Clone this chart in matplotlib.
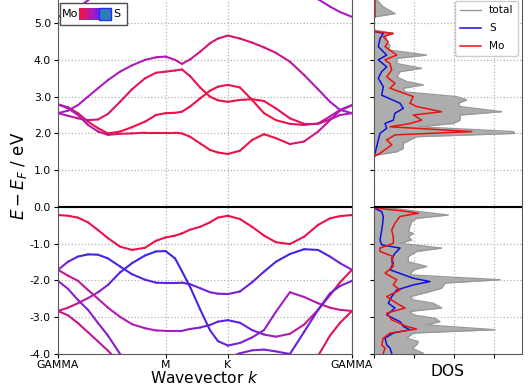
import numpy as np
import matplotlib
matplotlib.use("Agg")
import matplotlib.pyplot as plt
from matplotlib.collections import LineCollection
from matplotlib.colors import LinearSegmentedColormap
from matplotlib.patches import Rectangle

plt.rcParams['axes.unicode_minus'] = False
plt.rcParams['axes.edgecolor'] = '0.35'

# k-path (Gamma - M - K - Gamma), path length units
kpts = [0.0, 0.054, 0.107, 0.161, 0.215, 0.268, 0.333, 0.397, 0.467, 0.526, 0.577,
        0.628, 0.665, 0.708, 0.762, 0.815, 0.858, 0.911,
        0.976, 1.041, 1.105, 1.169, 1.244, 1.320, 1.395, 1.459, 1.513, 1.577]
tick_pos = [0.0, 0.577, 0.911, 1.577]
tick_labels = ['GAMMA', 'M', 'K', 'GAMMA']

# band energies (eV, relative to E_F) and S character (0 = Mo, 1 = S)
nan = np.nan
c_top = [5.17, 5.28, 5.42, 5.62, 5.85, nan, nan, nan, nan, nan, nan,
         nan, nan, nan, nan, nan, nan, nan,
         nan, nan, nan, nan, nan, 5.85, 5.65, 5.45, 5.30, 5.17]
c_top_s = [0.5] * 28
c1 = [2.55, 2.62, 2.77, 3.00, 3.23, 3.45, 3.68, 3.85, 4.00, 4.07, 4.09,
      4.00, 3.89, 4.01, 4.22, 4.45, 4.58, 4.66,
      4.58, 4.47, 4.34, 4.19, 3.95, 3.59, 3.20, 2.86, 2.64, 2.55]
c1_s = [0.5, 0.5, 0.5, 0.5, 0.5, 0.48, 0.46, 0.45, 0.45, 0.45, 0.45,
        0.4, 0.35, 0.3, 0.25, 0.2, 0.18, 0.18,
        0.18, 0.2, 0.22, 0.25, 0.3, 0.38, 0.45, 0.5, 0.55, 0.55]
c2 = [2.55, 2.48, 2.41, 2.36, 2.38, 2.53, 2.86, 3.20, 3.50, 3.65, 3.68,
      3.71, 3.74, 3.56, 3.25, 3.00, 2.90, 2.86,
      2.91, 2.93, 2.88, 2.68, 2.41, 2.26, 2.26, 2.38, 2.50, 2.55]
c2_s = [0.45, 0.4, 0.32, 0.25, 0.2, 0.18, 0.15, 0.12, 0.12, 0.12, 0.12,
        0.12, 0.12, 0.1, 0.08, 0.06, 0.06, 0.06,
        0.06, 0.06, 0.06, 0.08, 0.12, 0.2, 0.3, 0.4, 0.45, 0.5]
c3 = [2.79, 2.71, 2.55, 2.32, 2.14, 2.00, 2.05, 2.17, 2.32, 2.50, 2.55,
      2.56, 2.59, 2.73, 2.95, 3.16, 3.27, 3.32,
      3.25, 2.91, 2.55, 2.36, 2.26, 2.23, 2.27, 2.46, 2.64, 2.77]
c3_s = [0.3, 0.25, 0.18, 0.12, 0.08, 0.05, 0.05, 0.05, 0.05, 0.05, 0.05,
        0.05, 0.05, 0.05, 0.05, 0.05, 0.05, 0.05,
        0.05, 0.05, 0.05, 0.05, 0.08, 0.15, 0.25, 0.35, 0.42, 0.5]
c4 = [2.79, 2.68, 2.50, 2.23, 2.05, 1.96, 1.99, 2.00, 2.02, 2.02, 2.02,
      2.02, 2.00, 1.91, 1.73, 1.55, 1.48, 1.44,
      1.53, 1.82, 1.98, 1.87, 1.71, 1.78, 2.05, 2.36, 2.62, 2.77]
c4_s = [0.5, 0.5, 0.45, 0.4, 0.35, 0.28, 0.15, 0.08, 0.05, 0.05, 0.05,
        0.05, 0.05, 0.05, 0.05, 0.05, 0.05, 0.05,
        0.05, 0.05, 0.05, 0.06, 0.1, 0.2, 0.3, 0.4, 0.45, 0.5]

v1 = [-0.22, -0.24, -0.29, -0.42, -0.63, -0.85, -1.08, -1.17, -1.11, -0.92, -0.83,
      -0.78, -0.72, -0.62, -0.54, -0.42, -0.29, -0.24,
      -0.33, -0.54, -0.78, -0.96, -1.01, -0.81, -0.49, -0.31, -0.25, -0.22]
v1_s = [0.06] * 28
v2 = [-1.71, -1.49, -1.35, -1.29, -1.30, -1.40, -1.62, -1.83, -1.98, -2.06, -2.07,
      -2.07, -2.06, -2.10, -2.21, -2.32, -2.36, -2.37,
      -2.30, -2.05, -1.76, -1.49, -1.28, -1.15, -1.17, -1.35, -1.53, -1.71]
v2_s = [0.55, 0.75, 0.9, 0.95, 0.95, 0.92, 0.88, 0.85, 0.82, 0.8, 0.8,
        0.8, 0.78, 0.75, 0.72, 0.7, 0.7, 0.7,
        0.72, 0.78, 0.85, 0.92, 0.95, 0.95, 0.92, 0.85, 0.7, 0.55]
v3 = [-2.83, -2.74, -2.62, -2.48, -2.32, -2.12, -1.78, -1.53, -1.32, -1.21, -1.20,
      -1.40, -1.75, -2.17, -2.78, -3.35, -3.65, -3.77,
      -3.70, -3.55, -3.35, -2.85, -2.32, -2.45, -2.62, -2.74, -2.80, -2.83]
v3_s = [0.2, 0.25, 0.32, 0.45, 0.6, 0.75, 0.88, 0.93, 0.95, 0.95, 0.95,
        0.95, 0.95, 0.92, 0.88, 0.85, 0.8, 0.75,
        0.7, 0.65, 0.6, 0.55, 0.5, 0.45, 0.38, 0.32, 0.28, 0.25]
v4 = [-1.71, -1.87, -2.01, -2.26, -2.50, -2.74, -2.99, -3.19, -3.30, -3.36, -3.37,
      -3.37, -3.37, -3.32, -3.28, -3.21, -3.12, -3.08,
      -3.15, -3.35, -3.47, -3.53, -3.45, -3.20, -2.80, -2.40, -2.05, -1.71]
v4_s = [0.3, 0.33, 0.36, 0.38, 0.4, 0.4, 0.4, 0.42, 0.45, 0.45, 0.45,
        0.5, 0.55, 0.65, 0.75, 0.8, 0.85, 0.85,
        0.8, 0.72, 0.62, 0.5, 0.4, 0.3, 0.2, 0.15, 0.12, 0.1]
v5 = [-2.01, -2.23, -2.53, -2.80, -3.16, -3.50, -4.00, -4.45, nan, nan, nan,
      nan, nan, nan, nan, nan, nan, -4.10,
      -3.98, -3.90, -3.88, -3.93, -4.00, -3.40, -2.80, -2.35, -2.15, -2.01]
v5_s = [0.55, 0.6, 0.62, 0.65, 0.65, 0.65, 0.65, 0.65, 0.6, 0.6, 0.6,
        0.6, 0.6, 0.6, 0.6, 0.6, 0.6, 0.65,
        0.65, 0.65, 0.65, 0.7, 0.75, 0.78, 0.78, 0.75, 0.7, 0.6]
v6 = [-2.83, -2.95, -3.16, -3.41, -3.66, -3.91, -4.25, nan, nan, nan, nan,
      nan, nan, nan, nan, nan, nan, nan,
      nan, nan, nan, nan, nan, nan, -4.05, -3.50, -3.15, -2.83]
v6_s = [0.25, 0.28, 0.3, 0.32, 0.33, 0.33, 0.33, 0.33, 0.3, 0.3, 0.3,
        0.3, 0.3, 0.3, 0.3, 0.3, 0.3, 0.3,
        0.3, 0.3, 0.3, 0.3, 0.3, 0.3, 0.15, 0.12, 0.12, 0.15]

bands = [(c_top, c_top_s), (c1, c1_s), (c2, c2_s), (c3, c3_s), (c4, c4_s),
         (v1, v1_s), (v2, v2_s), (v3, v3_s), (v4, v4_s), (v5, v5_s), (v6, v6_s)]

# DOS (energy, states) -- total, S, Mo
e_tot = [5.63, 5.44, 5.26, 5.17, 5.13, 4.81, 4.77, 4.72, 4.67, 4.58, 4.49, 4.40, 4.27,
         4.13, 4.04, 3.90, 3.77, 3.68, 3.54, 3.41, 3.32, 3.23, 3.13, 3.00, 2.91, 2.82,
         2.73, 2.59, 2.50, 2.36, 2.27, 2.18, 2.05, 2.00, 1.91, 1.82, 1.73, 1.59, 1.50,
         1.41, 1.37, 0.0,
         0.0, -0.01, -0.04, -0.13, -0.22, -0.31, -0.40, -0.53, -0.67, -0.72, -0.81, -0.90,
         -0.99, -1.12, -1.21, -1.35, -1.49, -1.62, -1.71, -1.85, -1.98, -2.07, -2.21,
         -2.35, -2.44, -2.53, -2.62, -2.75, -2.84, -2.94, -3.03, -3.12, -3.21, -3.34,
         -3.43, -3.57, -3.66, -3.75, -3.84, -3.98, -4.07]
dos_tot = [0.27, 0.93, 2.10, 0.10, 0.0, 0.0, 0.93, 1.93, 1.10, 1.27, 1.10, 1.60, 1.43,
           5.27, 2.27, 2.27, 4.77, 2.60, 2.27, 3.27, 4.93, 2.93, 3.10, 8.27, 9.27, 8.43,
           8.60, 12.77, 8.60, 8.60, 7.93, 4.43, 13.93, 14.10, 4.27, 3.60, 2.93, 2.93, 2.27,
           0.27, 0.0, 0.0,
           0.0, 0.0, 1.93, 4.60, 7.43, 4.27, 3.77, 3.60, 3.43, 3.93, 3.43, 3.77,
           2.60, 6.77, 4.27, 3.43, 3.43, 5.27, 3.93, 3.60, 12.60, 7.10, 6.77,
           4.93, 3.60, 3.93, 5.93, 6.77, 3.60, 3.93, 6.10, 6.60, 5.27, 12.10,
           3.93, 3.27, 4.43, 4.27, 3.77, 4.93, 4.93]
e_s = [4.81, 4.77, 4.72, 4.58, 4.36, 4.13, 4.00, 3.81, 3.68, 3.50, 3.27, 3.04, 2.82,
       2.68, 2.55, 2.36, 2.27, 2.14, 2.00, 1.82, 1.64, 1.46, 1.37, 0.0,
       -0.01, -0.04, -0.13, -0.26, -0.44, -0.63, -0.90, -1.03, -1.12, -1.26, -1.40,
       -1.53, -1.71, -1.94, -2.03, -2.12, -2.26, -2.44, -2.62, -2.75, -2.94, -3.12,
       -3.25, -3.34, -3.43, -3.57, -3.75, -3.84, -3.98, -4.07]
dos_s = [0.0, 0.10, 0.93, 0.60, 0.43, 1.27, 0.43, 1.27, 0.77, 0.43, 0.93, 0.77, 2.60,
         2.93, 2.10, 1.93, 1.10, 1.27, 0.60, 0.43, 0.27, 0.10, 0.0, 0.0,
         0.0, 0.10, 0.77, 0.93, 0.87, 0.77, 0.60, 0.77, 2.60, 2.10, 1.77,
         1.93, 1.60, 3.93, 5.60, 3.93, 2.27, 1.77, 1.43, 2.10, 1.27, 2.60,
         2.93, 3.60, 1.93, 1.10, 1.27, 1.60, 1.77, 1.77]
e_mo = [5.63, 5.17, 5.13, 4.81, 4.77, 4.72, 4.63, 4.49, 4.36, 4.13, 4.00, 3.90, 3.72,
        3.54, 3.36, 3.23, 3.00, 2.82, 2.73, 2.59, 2.50, 2.36, 2.27, 2.18, 2.05, 1.96,
        1.82, 1.69, 1.59, 1.46, 1.39, 1.35, 0.0,
        -0.01, -0.04, -0.10, -0.17, -0.26, -0.44, -0.63, -0.81, -0.99, -1.12, -1.21,
        -1.35, -1.49, -1.62, -1.80, -1.98, -2.12, -2.26, -2.44, -2.62, -2.75, -2.89,
        -3.07, -3.25, -3.32, -3.43, -3.57, -3.75, -3.84, -3.98, -4.07]
dos_mo = [0.10, 0.10, 0.0, 0.0, 0.10, 1.93, 0.93, 1.43, 1.10, 2.27, 1.10, 1.60, 1.77,
          1.27, 2.10, 1.60, 3.93, 3.60, 4.27, 6.77, 3.93, 4.77, 3.60, 1.60, 9.77, 2.10,
          1.27, 1.77, 1.27, 0.60, 0.10, 0.0, 0.0,
          0.0, 0.43, 2.60, 4.43, 2.60, 2.10, 1.77, 1.93, 1.93, 0.60, 0.60,
          1.93, 1.77, 1.93, 1.10, 2.27, 1.93, 2.60, 1.27, 2.27, 3.10, 1.27,
          1.77, 3.27, 4.27, 1.60, 0.93, 0.77, 1.10, 0.93, 0.93]

cmap = LinearSegmentedColormap.from_list('mo_s', ['#f5103a', '#a81cc4', '#3326ee'])

fig = plt.figure(figsize=(5.28, 3.88), dpi=100)
W, H = 528.0, 388.0
ax = fig.add_axes([58 / W, 1 - 354 / H, 294 / W, 357 / H])
ax2 = fig.add_axes([374 / W, 1 - 354 / H, 148 / W, 357 / H], sharey=ax)

k = np.array(kpts)
for e, w in bands:
    e = np.array(e, dtype=float)
    w = np.array(w, dtype=float)
    pts = np.column_stack([k, e])
    segs = np.stack([pts[:-1], pts[1:]], axis=1)
    ok = ~np.isnan(segs).any(axis=(1, 2))
    cols = cmap(0.5 * (w[:-1] + w[1:]))[ok]
    lc = LineCollection(segs[ok], colors=cols, linewidths=1.5, capstyle='round',
                        joinstyle='round')
    ax.add_collection(lc)

ax.axhline(0, color='k', lw=1.5, zorder=3)
ax.set_xlim(0, kpts[-1])
ax.set_ylim(-4.0, 5.71)
ax.set_xticks(tick_pos)
ax.set_xticklabels(tick_labels, fontsize=7.8)
ax.set_yticks(np.arange(-4, 5.1, 1.0))
ax.set_yticklabels(['%.1f' % v for v in np.arange(-4, 5.1, 1.0)], fontsize=7.8)
ax.tick_params(length=3)
ax.tick_params(axis='x', pad=1.5)
ax.tick_params(axis='y', pad=2)
ax.grid(True, ls=':', color='0.7', lw=0.9)
ax.set_xlabel('Wavevector $k$', fontsize=11.2, labelpad=0)
ax.set_ylabel('$E - E_F$ / eV', fontsize=12, labelpad=0.5)

# colour legend box
tr = fig.transFigure
box = Rectangle((60 / W, 1 - 25 / H), 67 / W, 22 / H, transform=tr, fill=True,
                facecolor='white', edgecolor='0.3', lw=1, zorder=5)
fig.patches.append(box)
fig.text(62 / W, 1 - 14 / H, 'Mo', fontsize=8, va='center', ha='left', zorder=6)
nstep = 20
for i in range(nstep):
    fig.patches.append(Rectangle(((79 + i) / W, 1 - 19.5 / H), 1.05 / W, 11 / H,
                                 transform=tr, facecolor=cmap(0.7 * i / (nstep - 1)),
                                 edgecolor='none', zorder=6))
fig.patches.append(Rectangle((99 / W, 1 - 19.5 / H), 12 / W, 11 / H, transform=tr,
                             facecolor='#2e7fb8', edgecolor='#2828ff', lw=1, zorder=6))
fig.text(113 / W, 1 - 14 / H, 'S', fontsize=8, va='center', ha='left', zorder=6)

# DOS panel
ax2.fill_betweenx(e_tot, 0, dos_tot, color='0.68', lw=0)
ax2.plot(dos_tot, e_tot, color='0.6', lw=1, label='total')
ax2.plot(dos_s, e_s, color='#1010e0', lw=1.1, label='S')
ax2.plot(dos_mo, e_mo, color='#ee1010', lw=1.1, label='Mo')
ax2.axhline(0, color='k', lw=1.5, zorder=3)
ax2.set_xlim(0, 14.8)
ax2.set_xticks([0, 4, 8, 12])
ax2.tick_params(labelbottom=False, labelleft=False, length=3)
ax2.grid(True, ls=':', color='0.7', lw=0.9)
ax2.set_xlabel('DOS', fontsize=11.2, labelpad=4)
ax2.legend(loc='upper right', fontsize=7.6, handlelength=2.0, borderaxespad=0.4,
           labelspacing=0.75, framealpha=1)

fig.savefig('out.png', dpi=100)
